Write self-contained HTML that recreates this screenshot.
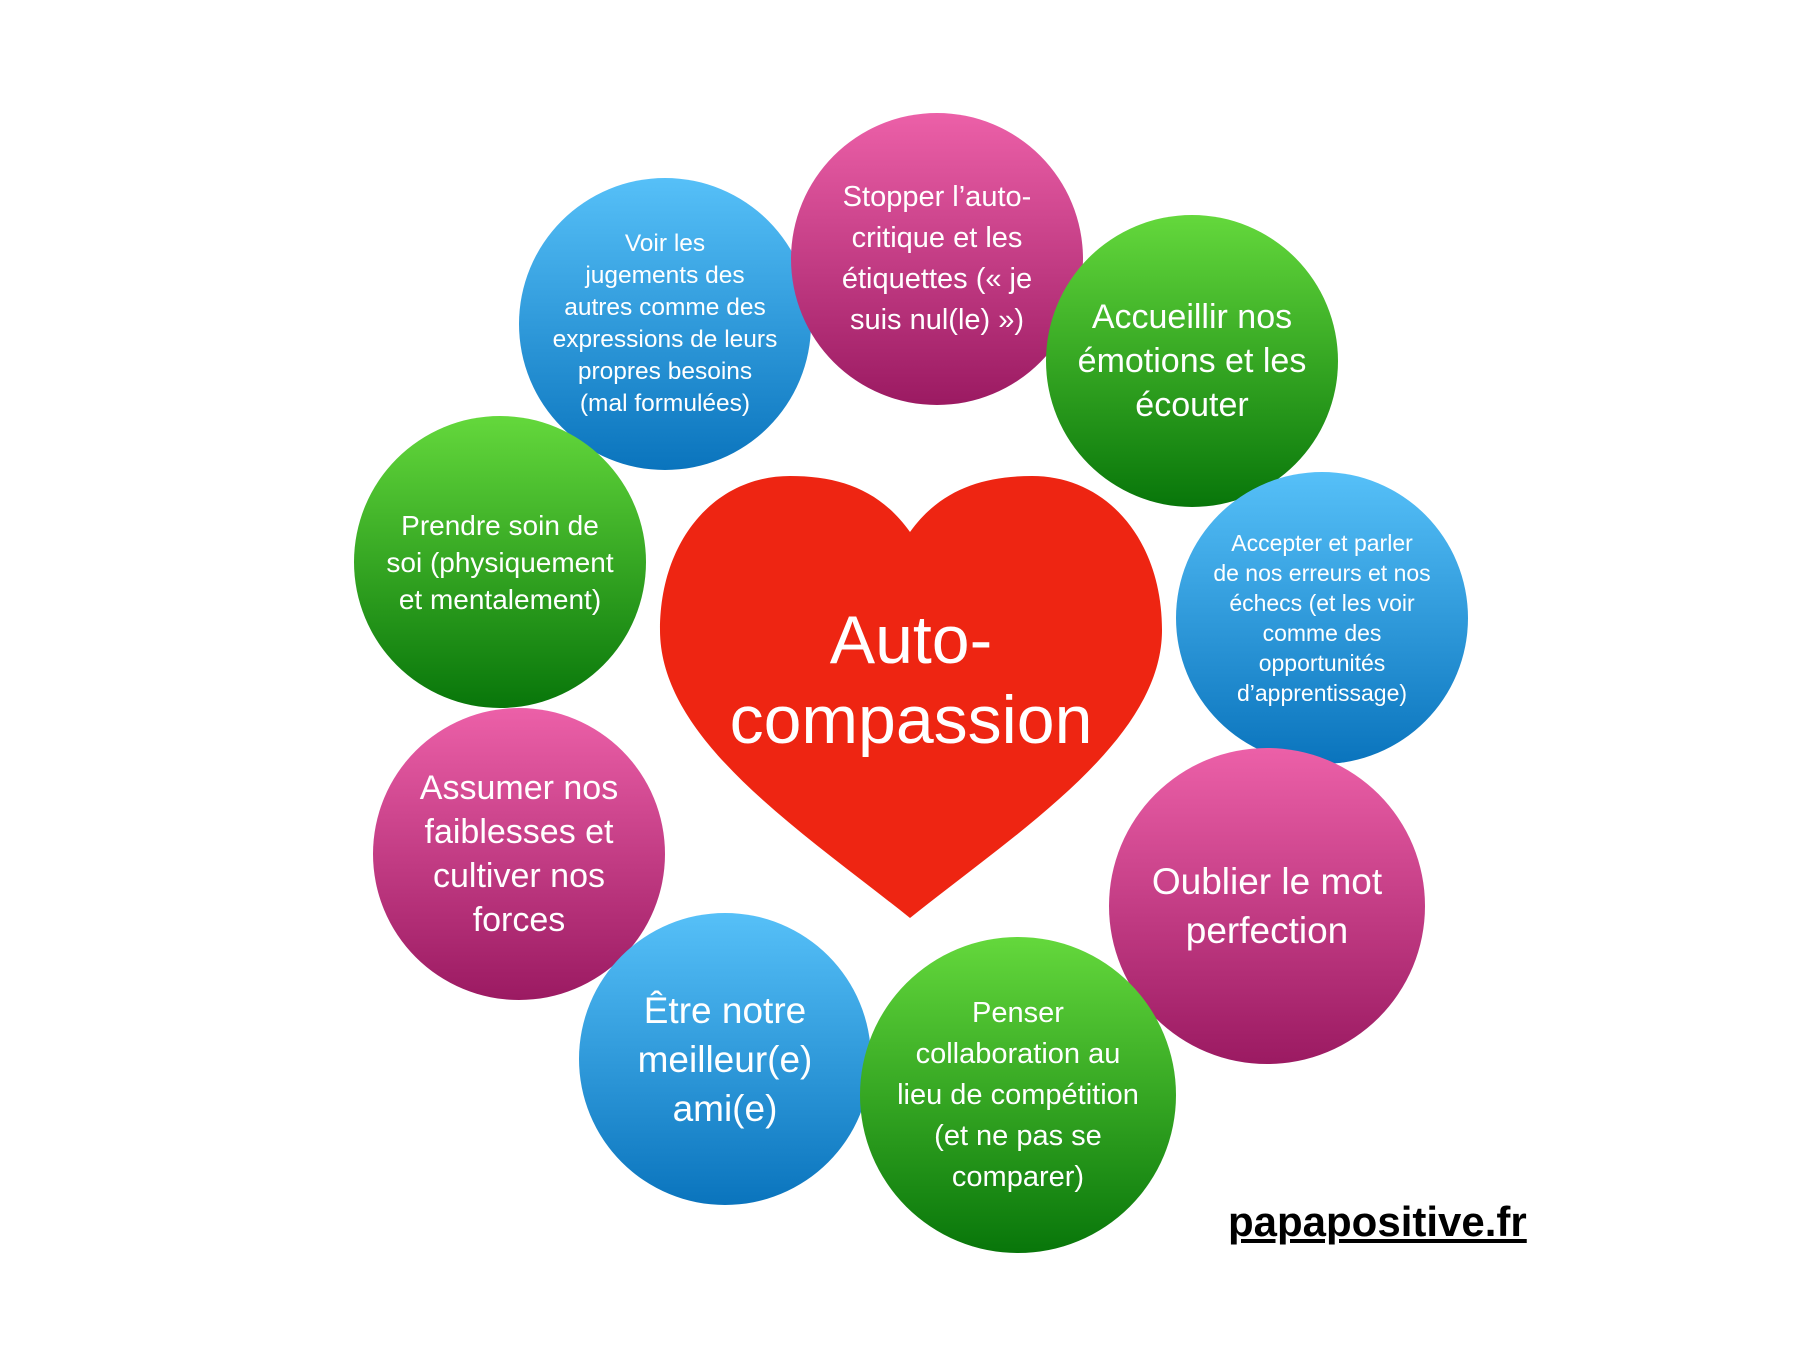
<!DOCTYPE html>
<html><head><meta charset="utf-8"><style>
html,body{margin:0;padding:0;background:#fff;}
body{width:1820px;height:1365px;position:relative;overflow:hidden;font-family:"Liberation Sans",Arial,sans-serif;}
.c{position:absolute;border-radius:50%;display:flex;align-items:center;justify-content:center;text-align:center;color:#fff;box-sizing:border-box;padding:0 14px;}
.p{background:linear-gradient(#ec60a8,#9b1a62);}
.b{background:linear-gradient(#56c0f8,#0a74bd);}
.g{background:linear-gradient(#64d83c,#08760a);}
svg{position:absolute;left:0;top:0;}
.h{position:absolute;left:660px;width:502px;text-align:center;color:#fff;font-size:68px;line-height:80px;}
.w{position:absolute;left:1228px;top:1198px;font-size:42px;font-weight:bold;text-decoration:underline;color:#000;}
</style></head><body>
<div class="c b" style="left:519px;top:178px;width:292px;height:292px;font-size:24.5px;line-height:32px;">Voir les<br>jugements des<br>autres comme des<br>expressions de leurs<br>propres besoins<br>(mal formulées)</div>
<div class="c p" style="left:791px;top:113px;width:292px;height:292px;font-size:29px;line-height:41px;">Stopper l’auto-<br>critique et les<br>étiquettes (« je<br>suis nul(le) »)</div>
<div class="c g" style="left:1046px;top:215px;width:292px;height:292px;font-size:34px;line-height:44px;">Accueillir nos<br>émotions et les<br>écouter</div>
<div class="c b" style="left:1176px;top:472px;width:292px;height:292px;font-size:23px;line-height:30px;">Accepter et parler<br>de nos erreurs et nos<br>échecs (et les voir<br>comme des<br>opportunités<br>d’apprentissage)</div>
<div class="c g" style="left:354px;top:416px;width:292px;height:292px;font-size:28px;line-height:37px;">Prendre soin de<br>soi (physiquement<br>et mentalement)</div>
<div class="c p" style="left:373px;top:708px;width:292px;height:292px;font-size:34px;line-height:44px;">Assumer nos<br>faiblesses et<br>cultiver nos<br>forces</div>
<div class="c b" style="left:579px;top:913px;width:292px;height:292px;font-size:37px;line-height:49px;">Être notre<br>meilleur(e)<br>ami(e)</div>
<div class="c p" style="left:1109px;top:748px;width:316px;height:316px;font-size:37px;line-height:49px;">Oublier le mot<br>perfection</div>
<div class="c g" style="left:860px;top:937px;width:316px;height:316px;font-size:29px;line-height:41px;">Penser<br>collaboration au<br>lieu de compétition<br>(et ne pas se<br>comparer)</div>
<svg width="1820" height="1365"><path d="M910,532 C880,490 840,476 790,476 C715,476 660,540 660,630 C660,740 800,830 910,918 C1020,830 1162,740 1162,630 C1162,540 1107,476 1032,476 C982,476 940,490 910,532 Z" fill="#ee2512"/></svg>
<div class="h" style="top:600px;">Auto-<br>compassion</div>
<div class="w">papapositive.fr</div>
</body></html>
